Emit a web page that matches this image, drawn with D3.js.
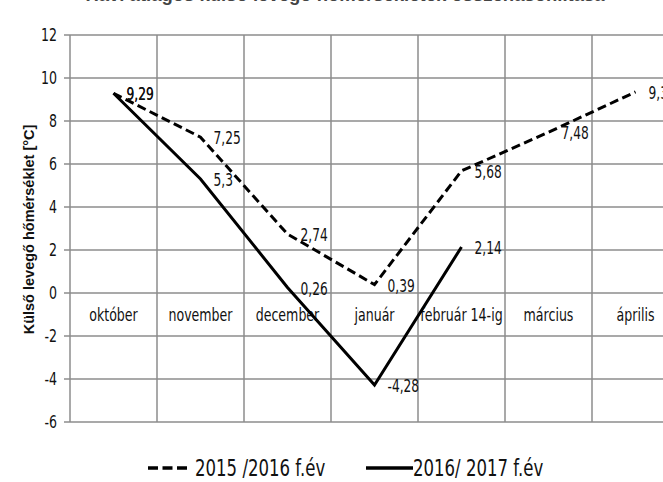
<!DOCTYPE html>
<html>
<head>
<meta charset="utf-8">
<script src="https://cdn.jsdelivr.net/npm/d3@7"></script>
<style>
  body { margin: 0; background: #fff; }
  svg { display: block; }
  .narrow { font-family: "DejaVu Sans", sans-serif; fill: #111; }
</style>
</head>
<body>
<svg id="chart" width="663" height="482"></svg>
<script>
// Data
const months = ["október", "november", "december", "január", "február 14-ig", "március", "április"];
const season1516 = [9.29, 7.25, 2.74, 0.39, 5.68, 7.48, 9.35];
const season1617 = [9.29, 5.3, 0.26, -4.28, 2.14];
const yTicks = [-6, -4, -2, 0, 2, 4, 6, 8, 10, 12];
const seriesNames = ["2015 /2016 f.év", "2016/ 2017 f.év"];

const svg = d3.select("#chart");
const fmt = v => String(v).replace(".", ",");
const SX = 0.72; // horizontal squeeze to mimic a condensed font

// place a squeezed text at (px, py)
const squeeze = (px, py) => `translate(${px},${py}) scale(${SX},1)`;

const x = d3.scaleBand().domain(months).range([70, 679]);
const y = d3.scaleLinear().domain([-6, 12]).range([422, 35]);
const cx = m => x(m) + x.bandwidth() / 2;

// Title (cut off at the top, as in the original)
svg.append("text")
  .attr("x", 345).attr("y", 1)
  .attr("text-anchor", "middle")
  .style("font-family", "Liberation Sans, Arial, sans-serif")
  .style("font-weight", "bold")
  .style("font-size", "18.5px")
  .style("fill", "#444")
  .text("Havi átlagos külső levegő hőmérsékletek összehasonlítása");

// Gridlines
const grid = svg.append("g").attr("stroke", "#8c8c8c").attr("stroke-width", 1.5);
grid.selectAll("line.h")
  .data(yTicks)
  .join("line")
    .attr("class", "h")
    .attr("x1", 64).attr("x2", 663)
    .attr("y1", d => y(d)).attr("y2", d => y(d));
grid.selectAll("line.v")
  .data(months)
  .join("line")
    .attr("class", "v")
    .attr("x1", d => x(d)).attr("x2", d => x(d))
    .attr("y1", y(12)).attr("y2", y(-6));

// Y tick labels
svg.append("g").attr("class", "narrow")
  .selectAll("text")
  .data(yTicks)
  .join("text")
    .attr("transform", d => squeeze(57, y(d)))
    .attr("dy", "0.36em")
    .attr("text-anchor", "end")
    .style("font-size", "17.5px")
    .text(d => d);

// Category labels inside plot
svg.append("g").attr("class", "narrow")
  .selectAll("text")
  .data(months)
  .join("text")
    .attr("transform", d => squeeze(cx(d), y(-1)))
    .attr("dy", "0.36em")
    .attr("text-anchor", "middle")
    .style("font-size", "17.5px")
    .text(d => d);

// Y axis title
svg.append("text")
  .attr("transform", `translate(29,${(97 + 362) / 2}) rotate(-90)`)
  .attr("text-anchor", "middle")
  .attr("dy", "0.35em")
  .style("font-family", "Liberation Sans, Arial, sans-serif")
  .style("font-weight", "bold")
  .style("font-size", "14.5px")
  .style("fill", "#111")
  .text("Külső levegő hőmérséklet [°C]");

// Lines
const line = d3.line()
  .x((d, i) => cx(months[i]))
  .y(d => y(d));

svg.append("path")
  .datum(season1516)
  .attr("fill", "none")
  .attr("stroke", "#000")
  .attr("stroke-width", 3)
  .attr("stroke-dasharray", "9,4.5")
  .attr("d", line);

svg.append("path")
  .datum(season1617)
  .attr("fill", "none")
  .attr("stroke", "#000")
  .attr("stroke-width", 3)
  .attr("d", line);

// Data labels
function labels(data) {
  svg.append("g").attr("class", "narrow")
    .selectAll("text")
    .data(data)
    .join("text")
      .attr("transform", (d, i) => squeeze(cx(months[i]) + 13, y(d) + 1))
      .attr("dy", "0.36em")
      .style("font-size", "17px")
      .text(d => fmt(d));
}
labels(season1516);
labels(season1617);

// Legend
const legend = svg.append("g").attr("class", "narrow");
legend.append("line")
  .attr("x1", 148).attr("x2", 187).attr("y1", 468).attr("y2", 468)
  .attr("stroke", "#000").attr("stroke-width", 3.5).attr("stroke-dasharray", "10,4.5");
legend.append("text")
  .attr("transform", squeeze(195, 468))
  .attr("dy", "0.36em")
  .style("font-size", "23px")
  .text(seriesNames[0]);
legend.append("line")
  .attr("x1", 366).attr("x2", 413).attr("y1", 468).attr("y2", 468)
  .attr("stroke", "#000").attr("stroke-width", 3.5);
legend.append("text")
  .attr("transform", squeeze(413, 468))
  .attr("dy", "0.36em")
  .style("font-size", "23px")
  .text(seriesNames[1]);
</script>
</body>
</html>
